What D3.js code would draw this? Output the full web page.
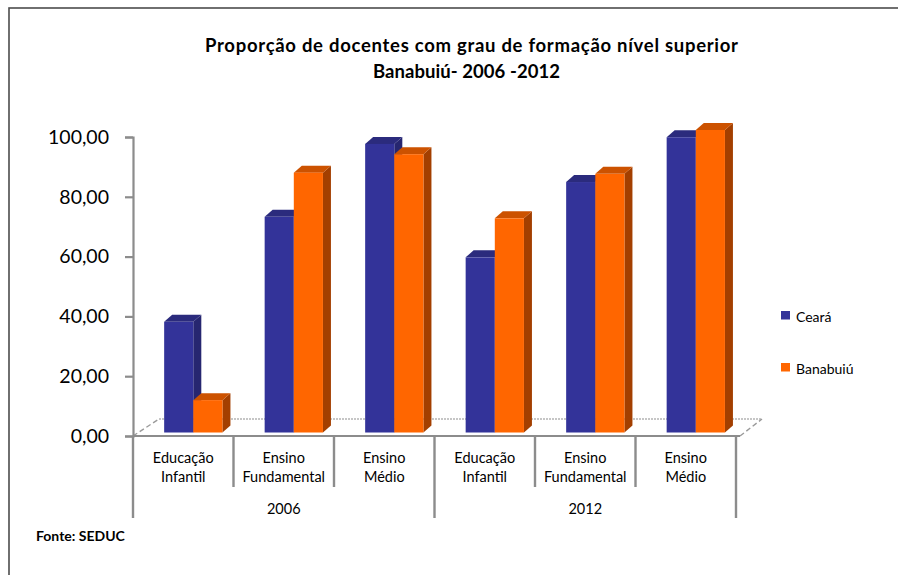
<!DOCTYPE html>
<html>
<head>
<meta charset="utf-8">
<script src="https://cdn.jsdelivr.net/npm/d3@7"></script>
<style>
	body { margin: 0; background: #fff; }
	svg { display: block; }
</style>
</head>
<body>
<div id="chart"></div>
<script>
// dados
const years = ['2006', '2012'];
const levels = [['Educação', 'Infantil'], ['Ensino', 'Fundamental'], ['Ensino', 'Médio']];
const seriesNames = ['Ceará', 'Banabuiú'];
const cearaValues = [36.6, 71.3, 95.4, 57.9, 82.8, 97.6];
const banabuiuValues = [10.7, 85.9, 92.0, 70.8, 85.5, 100.0];
const yTicks = [0, 20, 40, 60, 80, 100];

const option = {
	width: 898,
	height: 575,
	title: ['Proporção de docentes com grau de formação nível superior', 'Banabuiú- 2006 -2012'],
	font: 'Lato, "Open Sans", sans-serif',
	colors: {
		'Ceará': { front: '#333399', top: '#2b2b7d', side: '#262670' },
		'Banabuiú': { front: '#FF6600', top: '#CC5200', side: '#A33F00' }
	},
	depth: { dx: 8, dy: -7 },
	floor: { dx: 26, dy: -17 }
};

const dataset = [];
years.forEach(function (year, yi) {
	levels.forEach(function (lvl, li) {
		let i = yi * levels.length + li;
		dataset.push({
			key: i,
			year: year,
			label: lvl,
			values: [
				{ name: seriesNames[0], value: cearaValues[i] },
				{ name: seriesNames[1], value: banabuiuValues[i] }
			]
		});
	});
});

const drawRootD3Container = function (element) {
	let svg = d3.select(element).append('svg')
		.attr('width', option.width)
		.attr('height', option.height)
		.style('font-family', option.font);

	svg.append('rect')
		.attr('x', 9)
		.attr('y', 8)
		.attr('width', 1000)
		.attr('height', 1000)
		.attr('fill', 'none')
		.attr('stroke', '#4d4d4d')
		.attr('stroke-width', 1.6);

	let title = svg.append('text')
		.attr('text-anchor', 'middle')
		.attr('font-weight', 700)
		.style('font-size', '18.5px')
		.attr('fill', '#000');
	title.append('tspan').attr('x', 471.5).attr('y', 52)
		.attr('textLength', 533).attr('lengthAdjust', 'spacing')
		.text(option.title[0]);
	title.append('tspan').attr('x', 466.5).attr('y', 77.5)
		.attr('textLength', 187).attr('lengthAdjust', 'spacing')
		.text(option.title[1]);

	svg.append('text')
		.attr('x', 36)
		.attr('y', 541)
		.attr('font-weight', 700)
		.style('font-size', '14px')
		.text('Fonte: SEDUC');

	return svg;
};

const drawAxes = function (svg, xScale, yScale) {
	let x0 = xScale.range()[0], x1 = xScale.range()[1];
	let y0 = yScale(0);
	let f = option.floor;

	// chão em 3D
	svg.append('line')
		.attr('x1', x0 + f.dx).attr('y1', y0 + f.dy)
		.attr('x2', x1 + f.dx).attr('y2', y0 + f.dy)
		.attr('stroke', '#b4b4b4')
		.attr('stroke-width', 1.6)
		.attr('stroke-dasharray', '2,1');
	[x0, x1 + 4].forEach(function (x) {
		svg.append('line')
			.attr('x1', x).attr('y1', y0)
			.attr('x2', x + f.dx - (x === x0 ? 0 : 4)).attr('y2', y0 + f.dy)
			.attr('stroke', '#9a9a9a')
			.attr('stroke-width', 1.4)
			.attr('stroke-dasharray', '5,3');
	});

	let axisY = svg.append('g')
		.attr('class', 'axisY')
		.attr('transform', 'translate(' + x0 + ',0)')
		.call(d3.axisLeft(yScale).tickValues(yTicks).tickSize(8).tickPadding(16)
			.tickFormat(function (d) { return d3.format('.2f')(d).replace('.', ','); }));
	axisY.select('.domain').attr('stroke', '#8c8c8c').attr('stroke-width', 2.2);
	axisY.selectAll('.tick line').attr('stroke', '#8c8c8c').attr('stroke-width', 2.2);
	axisY.selectAll('.tick text')
		.style('font-size', '19.5px')
		.style('font-family', option.font)
		.attr('fill', '#000');

	// eixo de categorias
	let axisX = svg.append('g').attr('class', 'axisX');
	axisX.append('line')
		.attr('x1', x0).attr('y1', y0)
		.attr('x2', x1 + 4).attr('y2', y0)
		.attr('stroke', '#8c8c8c')
		.attr('stroke-width', 2.2);

	let bounds = dataset.map(function (d) { return xScale(d.key); }).concat([x1]);
	bounds.forEach(function (x, i) {
		let isGroup = i % levels.length === 0;
		axisX.append('line')
			.attr('x1', x).attr('y1', y0)
			.attr('x2', x).attr('y2', isGroup ? 518 : 487)
			.attr('stroke', '#8c8c8c')
			.attr('stroke-width', 2.4);
	});

	let labels = axisX.selectAll('.cat')
		.data(dataset)
		.enter().append('text')
		.attr('class', 'cat')
		.attr('text-anchor', 'middle')
		.style('font-size', '14.5px')
		.attr('fill', '#000');
	labels.append('tspan')
		.attr('x', function (d) { return xScale(d.key) + xScale.bandwidth() / 2; })
		.attr('y', 463)
		.text(function (d) { return d.label[0]; });
	labels.append('tspan')
		.attr('x', function (d) { return xScale(d.key) + xScale.bandwidth() / 2; })
		.attr('y', 482)
		.text(function (d) { return d.label[1]; });

	years.forEach(function (year, yi) {
		let a = xScale(yi * levels.length), b = xScale(yi * levels.length + levels.length - 1) + xScale.bandwidth();
		axisX.append('text')
			.attr('x', (a + b) / 2)
			.attr('y', 514)
			.attr('text-anchor', 'middle')
			.style('font-size', '14.5px')
			.text(year);
	});
};

const drawBarChart = function (svg, xScale, innerScale, yBar) {
	let d = option.depth;
	let groups = svg.selectAll('.bar-group')
		.data(dataset)
		.enter().append('g')
		.attr('class', 'bar-group')
		.attr('transform', function (g) { return 'translate(' + xScale(g.key) + ',0)'; });

	let bars = groups.selectAll('.bar')
		.data(function (g) { return g.values; })
		.enter().append('g')
		.attr('class', 'bar');

	// lado
	bars.append('path')
		.attr('d', function (v) {
			let x = innerScale(v.name) + innerScale.bandwidth(), yt = yBar(v.value), yb = yBar(0);
			return 'M' + x + ',' + yb + 'L' + x + ',' + yt + 'L' + (x + d.dx) + ',' + (yt + d.dy) +
				'L' + (x + d.dx) + ',' + (yb + d.dy) + 'Z';
		})
		.attr('fill', function (v) { return option.colors[v.name].side; });

	// topo
	bars.append('path')
		.attr('d', function (v) {
			let x = innerScale(v.name), w = innerScale.bandwidth(), yt = yBar(v.value);
			return 'M' + x + ',' + yt + 'L' + (x + d.dx) + ',' + (yt + d.dy) + 'L' + (x + w + d.dx) + ',' + (yt + d.dy) +
				'L' + (x + w) + ',' + yt + 'Z';
		})
		.attr('fill', function (v) { return option.colors[v.name].top; });

	// frente
	bars.append('rect')
		.attr('x', function (v) { return innerScale(v.name); })
		.attr('y', function (v) { return yBar(v.value); })
		.attr('width', innerScale.bandwidth())
		.attr('height', function (v) { return yBar(0) - yBar(v.value); })
		.attr('fill', function (v) { return option.colors[v.name].front; });
};

const drawLegendChart = function (svg) {
	let legend = svg.selectAll('.legend')
		.data(seriesNames)
		.enter().append('g')
		.attr('class', 'legend')
		.attr('transform', function (d, i) { return 'translate(781,' + (311 + i * 52) + ')'; });
	legend.append('rect')
		.attr('width', 9)
		.attr('height', 8.5)
		.attr('fill', function (d) { return option.colors[d].front; });
	legend.append('text')
		.attr('x', 15)
		.attr('y', 11)
		.style('font-size', '14px')
		.attr('fill', '#000')
		.text(function (d) { return d; });
};

let svg = drawRootD3Container('#chart');

let xScale = d3.scaleBand()
	.domain(dataset.map(function (d) { return d.key; }))
	.range([133, 736])
	.padding(0);
let bw = xScale.bandwidth();
let innerScale = d3.scaleBand()
	.domain(seriesNames)
	.range([bw * 0.31, bw * 0.89])
	.padding(0);
let yScale = d3.scaleLinear().domain([0, 100]).range([436, 137]);
// plano das barras (ligeiramente atrás do eixo)
let yBar = d3.scaleLinear().domain([0, 100]).range([432.5, 130]);

drawAxes(svg, xScale, yScale);
drawBarChart(svg, xScale, innerScale, yBar);
drawLegendChart(svg);
</script>
</body>
</html>
